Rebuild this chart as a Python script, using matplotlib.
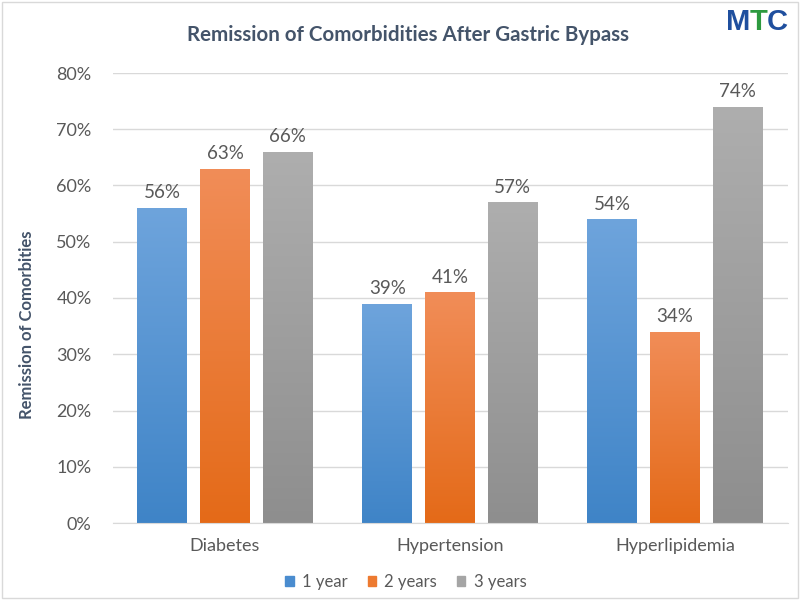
import numpy as np
import matplotlib.pyplot as plt
from matplotlib.colors import LinearSegmentedColormap
from matplotlib.patches import Rectangle

categories = ["Diabetes", "Hypertension", "Hyperlipidemia"]
series = ["1 year", "2 years", "3 years"]
year1 = [0.56, 0.39, 0.54]
year2 = [0.63, 0.41, 0.34]
year3 = [0.66, 0.57, 0.74]
values = [year1, year2, year3]

# (top colour, bottom colour) for the gradient fill
grad_colors = [("#6ea4dc", "#3f84c7"), ("#f18d58", "#e46a18"), ("#aeaeae", "#8e8e8e")]
legend_colors = ["#4a8ccf", "#ed7a30", "#a5a5a5"]

text_color = "#595959"
plt.rcParams["font.family"] = ["Lato", "DejaVu Sans"]

fig = plt.figure(figsize=(8, 6), dpi=100)
fig.patches.append(Rectangle((0.003, 0.003), 0.994, 0.994, transform=fig.transFigure,
                             fill=False, edgecolor="#d9d9d9", linewidth=1))
ax = fig.add_axes([112.5 / 800, 77 / 600, 675 / 800, 450 / 600])

x = np.arange(len(categories))
width = 0.222
offsets = [-0.278, 0, 0.278]
grad = np.linspace(0, 1, 256).reshape(-1, 1)

for vals, off, (top, bottom), name in zip(values, offsets, grad_colors, series):
    bars = ax.bar(x + off, vals, width, color="none", edgecolor="none", label=name)
    cmap = LinearSegmentedColormap.from_list(name, [bottom, top])
    for b, v in zip(bars, vals):
        bx, bw = b.get_x(), b.get_width()
        im = ax.imshow(grad, extent=[bx, bx + bw, 0, v], origin="lower",
                       aspect="auto", cmap=cmap, zorder=2)
        im.set_clip_path(b)
        ax.text(bx + bw / 2, v + 0.012, f"{v:.0%}", ha="center", va="bottom",
                fontsize=13.5, color=text_color, clip_on=False)

ax.set_xlim(-0.5, 2.5)
ax.set_ylim(0, 0.8)
ax.set_yticks(np.arange(0, 0.81, 0.1))
ax.set_yticklabels([f"{t:.0%}" for t in np.arange(0, 0.81, 0.1)])
ax.set_xticks(x)
ax.set_xticklabels(categories)
ax.tick_params(axis="both", length=0, labelsize=13, labelcolor=text_color)
ax.tick_params(axis="y", pad=15)
ax.tick_params(axis="x", pad=11)
ax.yaxis.grid(True, color="#d9d9d9", linewidth=1)
ax.set_axisbelow(True)
for s in ["top", "right", "left"]:
    ax.spines[s].set_visible(False)
ax.spines["bottom"].set_color("#d9d9d9")

fig.text(27 / 800, 1 - 325 / 600, "Remission of Comorbities", rotation=90,
         ha="center", va="center", fontsize=12, fontweight="bold", color="#44546a")
fig.text(408 / 800, 1 - 35 / 600, "Remission of Comorbidities After Gastric Bypass",
         ha="center", va="center", fontsize=14.8, fontweight="bold", color="#44546a")

# logo
lx, ly = 726 / 800, 1 - 22 / 600
for ch, col in zip("MTC", ["#1f4f9e", "#2d9a3f", "#1f4f9e"]):
    t = fig.text(lx, ly, ch, ha="left", va="center", fontsize=21, fontweight="bold",
                 color=col, family="Liberation Sans")
    fig.canvas.draw()
    bb = t.get_window_extent()
    lx = (bb.x1 - 1) / 800

handles = [Rectangle((0, 0), 1, 1, color=c) for c in legend_colors]
fig.legend(handles, series, loc="center", bbox_to_anchor=(406 / 800, 1 - 582 / 600),
           ncol=3, frameon=False, fontsize=12, labelcolor=text_color,
           handlelength=0.5, handleheight=0.5, handletextpad=0.5, columnspacing=1.2)

fig.savefig("out.png", dpi=100)
plt.close(fig)
